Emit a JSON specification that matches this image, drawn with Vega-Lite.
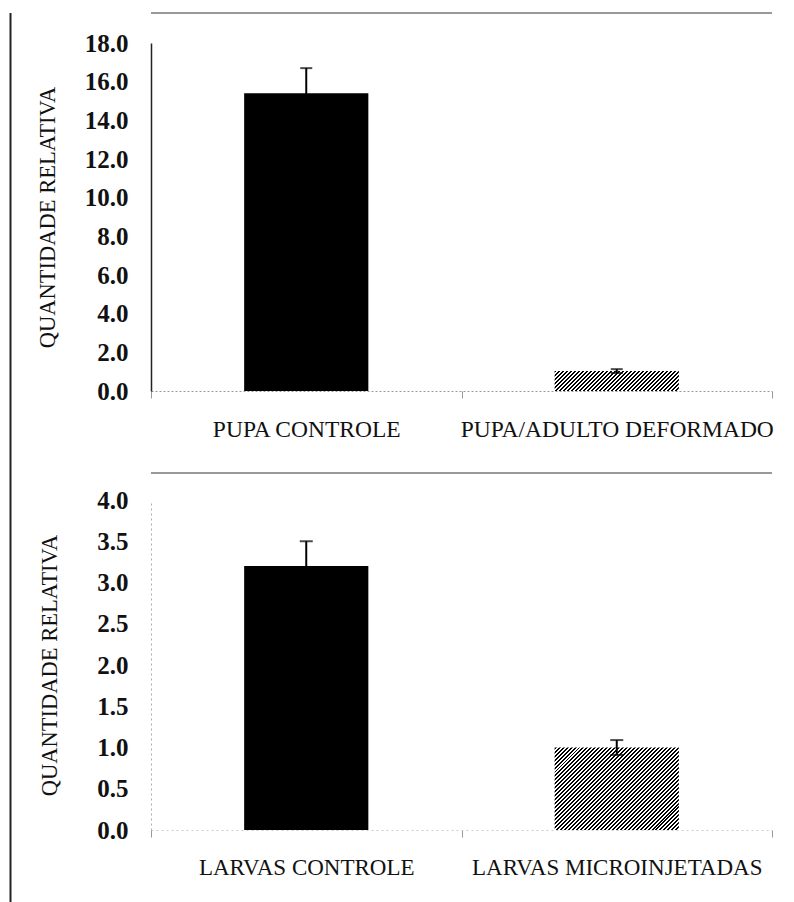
{
  "$schema": "https://vega.github.io/schema/vega-lite/v6.json",
  "background": "white",
  "padding": {"left": 9, "top": 11, "right": 0, "bottom": 0},
  "config": {"view": {"stroke": null}, "font": "Liberation Serif", "axis": {"grid": false, "labelOverlap": false}},
  "datasets": {
    "pupa": [
      {"grupo": "PUPA CONTROLE", "tipo": "controle", "valor": 15.4, "inf": 14.1, "sup": 16.7},
      {"grupo": "PUPA/ADULTO DEFORMADO", "tipo": "tratado", "valor": 1.03, "inf": 0.93, "sup": 1.13}
    ],
    "larvas": [
      {"grupo": "LARVAS CONTROLE", "tipo": "controle", "valor": 3.2, "inf": 2.9, "sup": 3.5},
      {"grupo": "LARVAS MICROINJETADAS", "tipo": "tratado", "valor": 1.0, "inf": 0.91, "sup": 1.09}
    ],
    "moldura": [{"linha": 19.55}, {"linha": -4.24}],
    "borda": [{"de": 0, "ate": 1.035}]
  },
  "columns": 2,
  "align": "none",
  "spacing": 24,
  "concat": [
    {
      "width": 1,
      "height": 860,
      "data": {"name": "borda"},
      "mark": {"type": "rule", "color": "#222", "strokeWidth": 2},
      "encoding": {
        "y": {"field": "de", "type": "quantitative", "scale": {"domain": [0, 1]}, "axis": null},
        "y2": {"field": "ate"}
      }
    },
    {
      "concat": [
        {
          "width": 621,
          "height": 348,
          "data": {"name": "pupa"},
          "layer": [
            {
              "transform": [{"filter": "datum.tipo === 'controle'"}],
              "mark": {"type": "bar", "width": {"band": 0.4}, "color": "#000"},
              "encoding": {
                "x": {"field": "grupo", "type": "nominal", "sort": null,
                  "scale": {"domain": ["PUPA CONTROLE", "PUPA/ADULTO DEFORMADO"], "paddingInner": 0, "paddingOuter": 0},
                  "axis": {"title": null, "labelAngle": 0, "labelFontSize": 23.5, "labelColor": "#111", "labelFont": "Liberation Serif", "labelPadding": 19, "labelLimit": 0, "labelOverlap": false, "tickBand": "extent", "tickSize": 7, "tickColor": "#999", "domainColor": "#999", "domainDash": [2, 2]}},
                "y": {"field": "valor", "type": "quantitative", "scale": {"domain": [0, 18]},
                  "axis": {"title": "QUANTIDADE RELATIVA", "titleFontSize": 22.5, "titleFontWeight": "normal", "titleColor": "#111", "titleFont": "Liberation Serif", "titlePadding": 25, "values": [0, 2, 4, 6, 8, 10, 12, 14, 16, 18], "tickCount": 20, "format": ".1f", "labelFontSize": 25, "labelFontWeight": "bold", "labelColor": "#111", "labelFont": "Liberation Serif", "labelPadding": 23, "labelOverlap": false, "labelBound": false, "ticks": false, "domainColor": "#222", "domainWidth": 1.5}}
              }
            },
            {
              "transform": [{"filter": "datum.tipo === 'tratado'"}],
              "mark": {"type": "bar", "width": {"band": 0.4}, "color": {"gradient": "linear", "x1": 0, "y1": 0, "x2": 1.1312, "y2": 0.1812, "stops": [
                {"offset": 0, "color": "#000"}, {"offset": 0.0139, "color": "#000"}, {"offset": 0.0139, "color": "#fff"}, {"offset": 0.0278, "color": "#fff"},
                {"offset": 0.0278, "color": "#000"}, {"offset": 0.0417, "color": "#000"}, {"offset": 0.0417, "color": "#fff"}, {"offset": 0.0556, "color": "#fff"},
                {"offset": 0.0556, "color": "#000"}, {"offset": 0.0694, "color": "#000"}, {"offset": 0.0694, "color": "#fff"}, {"offset": 0.0833, "color": "#fff"},
                {"offset": 0.0833, "color": "#000"}, {"offset": 0.0972, "color": "#000"}, {"offset": 0.0972, "color": "#fff"}, {"offset": 0.1111, "color": "#fff"},
                {"offset": 0.1111, "color": "#000"}, {"offset": 0.125, "color": "#000"}, {"offset": 0.125, "color": "#fff"}, {"offset": 0.1389, "color": "#fff"},
                {"offset": 0.1389, "color": "#000"}, {"offset": 0.1528, "color": "#000"}, {"offset": 0.1528, "color": "#fff"}, {"offset": 0.1667, "color": "#fff"},
                {"offset": 0.1667, "color": "#000"}, {"offset": 0.1806, "color": "#000"}, {"offset": 0.1806, "color": "#fff"}, {"offset": 0.1944, "color": "#fff"},
                {"offset": 0.1944, "color": "#000"}, {"offset": 0.2083, "color": "#000"}, {"offset": 0.2083, "color": "#fff"}, {"offset": 0.2222, "color": "#fff"},
                {"offset": 0.2222, "color": "#000"}, {"offset": 0.2361, "color": "#000"}, {"offset": 0.2361, "color": "#fff"}, {"offset": 0.25, "color": "#fff"},
                {"offset": 0.25, "color": "#000"}, {"offset": 0.2639, "color": "#000"}, {"offset": 0.2639, "color": "#fff"}, {"offset": 0.2778, "color": "#fff"},
                {"offset": 0.2778, "color": "#000"}, {"offset": 0.2917, "color": "#000"}, {"offset": 0.2917, "color": "#fff"}, {"offset": 0.3056, "color": "#fff"},
                {"offset": 0.3056, "color": "#000"}, {"offset": 0.3194, "color": "#000"}, {"offset": 0.3194, "color": "#fff"}, {"offset": 0.3333, "color": "#fff"},
                {"offset": 0.3333, "color": "#000"}, {"offset": 0.3472, "color": "#000"}, {"offset": 0.3472, "color": "#fff"}, {"offset": 0.3611, "color": "#fff"},
                {"offset": 0.3611, "color": "#000"}, {"offset": 0.375, "color": "#000"}, {"offset": 0.375, "color": "#fff"}, {"offset": 0.3889, "color": "#fff"},
                {"offset": 0.3889, "color": "#000"}, {"offset": 0.4028, "color": "#000"}, {"offset": 0.4028, "color": "#fff"}, {"offset": 0.4167, "color": "#fff"},
                {"offset": 0.4167, "color": "#000"}, {"offset": 0.4306, "color": "#000"}, {"offset": 0.4306, "color": "#fff"}, {"offset": 0.4444, "color": "#fff"},
                {"offset": 0.4444, "color": "#000"}, {"offset": 0.4583, "color": "#000"}, {"offset": 0.4583, "color": "#fff"}, {"offset": 0.4722, "color": "#fff"},
                {"offset": 0.4722, "color": "#000"}, {"offset": 0.4861, "color": "#000"}, {"offset": 0.4861, "color": "#fff"}, {"offset": 0.5, "color": "#fff"},
                {"offset": 0.5, "color": "#000"}, {"offset": 0.5139, "color": "#000"}, {"offset": 0.5139, "color": "#fff"}, {"offset": 0.5278, "color": "#fff"},
                {"offset": 0.5278, "color": "#000"}, {"offset": 0.5417, "color": "#000"}, {"offset": 0.5417, "color": "#fff"}, {"offset": 0.5556, "color": "#fff"},
                {"offset": 0.5556, "color": "#000"}, {"offset": 0.5694, "color": "#000"}, {"offset": 0.5694, "color": "#fff"}, {"offset": 0.5833, "color": "#fff"},
                {"offset": 0.5833, "color": "#000"}, {"offset": 0.5972, "color": "#000"}, {"offset": 0.5972, "color": "#fff"}, {"offset": 0.6111, "color": "#fff"},
                {"offset": 0.6111, "color": "#000"}, {"offset": 0.625, "color": "#000"}, {"offset": 0.625, "color": "#fff"}, {"offset": 0.6389, "color": "#fff"},
                {"offset": 0.6389, "color": "#000"}, {"offset": 0.6528, "color": "#000"}, {"offset": 0.6528, "color": "#fff"}, {"offset": 0.6667, "color": "#fff"},
                {"offset": 0.6667, "color": "#000"}, {"offset": 0.6806, "color": "#000"}, {"offset": 0.6806, "color": "#fff"}, {"offset": 0.6944, "color": "#fff"},
                {"offset": 0.6944, "color": "#000"}, {"offset": 0.7083, "color": "#000"}, {"offset": 0.7083, "color": "#fff"}, {"offset": 0.7222, "color": "#fff"},
                {"offset": 0.7222, "color": "#000"}, {"offset": 0.7361, "color": "#000"}, {"offset": 0.7361, "color": "#fff"}, {"offset": 0.75, "color": "#fff"},
                {"offset": 0.75, "color": "#000"}, {"offset": 0.7639, "color": "#000"}, {"offset": 0.7639, "color": "#fff"}, {"offset": 0.7778, "color": "#fff"},
                {"offset": 0.7778, "color": "#000"}, {"offset": 0.7917, "color": "#000"}, {"offset": 0.7917, "color": "#fff"}, {"offset": 0.8056, "color": "#fff"},
                {"offset": 0.8056, "color": "#000"}, {"offset": 0.8194, "color": "#000"}, {"offset": 0.8194, "color": "#fff"}, {"offset": 0.8333, "color": "#fff"},
                {"offset": 0.8333, "color": "#000"}, {"offset": 0.8472, "color": "#000"}, {"offset": 0.8472, "color": "#fff"}, {"offset": 0.8611, "color": "#fff"},
                {"offset": 0.8611, "color": "#000"}, {"offset": 0.875, "color": "#000"}, {"offset": 0.875, "color": "#fff"}, {"offset": 0.8889, "color": "#fff"},
                {"offset": 0.8889, "color": "#000"}, {"offset": 0.9028, "color": "#000"}, {"offset": 0.9028, "color": "#fff"}, {"offset": 0.9167, "color": "#fff"},
                {"offset": 0.9167, "color": "#000"}, {"offset": 0.9306, "color": "#000"}, {"offset": 0.9306, "color": "#fff"}, {"offset": 0.9444, "color": "#fff"},
                {"offset": 0.9444, "color": "#000"}, {"offset": 0.9583, "color": "#000"}, {"offset": 0.9583, "color": "#fff"}, {"offset": 0.9722, "color": "#fff"},
                {"offset": 0.9722, "color": "#000"}, {"offset": 0.9861, "color": "#000"}, {"offset": 0.9861, "color": "#fff"}, {"offset": 1, "color": "#fff"}
              ]}},
              "encoding": {
                "x": {"field": "grupo", "type": "nominal", "sort": null},
                "y": {"field": "valor", "type": "quantitative"}
              }
            },
            {
              "mark": {"type": "rule", "color": "#000", "strokeWidth": 2},
              "encoding": {
                "x": {"field": "grupo", "type": "nominal", "sort": null},
                "y": {"field": "inf", "type": "quantitative"},
                "y2": {"field": "sup"}
              }
            },
            {
              "mark": {"type": "tick", "color": "#000", "size": 12, "thickness": 2},
              "encoding": {
                "x": {"field": "grupo", "type": "nominal", "sort": null},
                "y": {"field": "sup", "type": "quantitative"}
              }
            },
            {
              "mark": {"type": "tick", "color": "#000", "size": 12, "thickness": 2},
              "encoding": {
                "x": {"field": "grupo", "type": "nominal", "sort": null},
                "y": {"field": "inf", "type": "quantitative"}
              }
            },
            {
              "data": {"name": "moldura"},
              "mark": {"type": "rule", "color": "#777", "strokeWidth": 1.5},
              "encoding": {"y": {"field": "linha", "type": "quantitative"}}
            }
          ]
        },
        {
          "width": 621,
          "height": 330,
          "data": {"name": "larvas"},
          "layer": [
            {
              "transform": [{"filter": "datum.tipo === 'controle'"}],
              "mark": {"type": "bar", "width": {"band": 0.4}, "color": "#000"},
              "encoding": {
                "x": {"field": "grupo", "type": "nominal", "sort": null,
                  "scale": {"domain": ["LARVAS CONTROLE", "LARVAS MICROINJETADAS"], "paddingInner": 0, "paddingOuter": 0},
                  "axis": {"title": null, "labelAngle": 0, "labelFontSize": 23, "labelColor": "#111", "labelFont": "Liberation Serif", "labelPadding": 19, "labelLimit": 0, "labelOverlap": false, "tickBand": "extent", "tickSize": 7, "tickColor": "#999", "domainColor": "#ccc", "domainDash": [2, 3]}},
                "y": {"field": "valor", "type": "quantitative", "scale": {"domain": [0, 4]},
                  "axis": {"title": "QUANTIDADE RELATIVA", "titleFontSize": 22.5, "titleFontWeight": "normal", "titleColor": "#111", "titleFont": "Liberation Serif", "titlePadding": 35, "values": [0, 0.5, 1, 1.5, 2, 2.5, 3, 3.5, 4], "tickCount": 20, "format": ".1f", "labelFontSize": 25, "labelFontWeight": "bold", "labelColor": "#111", "labelFont": "Liberation Serif", "labelPadding": 23, "labelOverlap": false, "labelBound": false, "ticks": false, "domainColor": "#aaa", "domainDash": [2, 3]}}
              }
            },
            {
              "transform": [{"filter": "datum.tipo === 'tratado'"}],
              "mark": {"type": "bar", "width": {"band": 0.4}, "color": {"gradient": "linear", "x1": 0, "y1": 0, "x2": 1.1547, "y2": 0.7671, "stops": [
                {"offset": 0, "color": "#000"}, {"offset": 0.0096, "color": "#000"}, {"offset": 0.0096, "color": "#fff"}, {"offset": 0.0192, "color": "#fff"},
                {"offset": 0.0192, "color": "#000"}, {"offset": 0.0288, "color": "#000"}, {"offset": 0.0288, "color": "#fff"}, {"offset": 0.0385, "color": "#fff"},
                {"offset": 0.0385, "color": "#000"}, {"offset": 0.0481, "color": "#000"}, {"offset": 0.0481, "color": "#fff"}, {"offset": 0.0577, "color": "#fff"},
                {"offset": 0.0577, "color": "#000"}, {"offset": 0.0673, "color": "#000"}, {"offset": 0.0673, "color": "#fff"}, {"offset": 0.0769, "color": "#fff"},
                {"offset": 0.0769, "color": "#000"}, {"offset": 0.0865, "color": "#000"}, {"offset": 0.0865, "color": "#fff"}, {"offset": 0.0962, "color": "#fff"},
                {"offset": 0.0962, "color": "#000"}, {"offset": 0.1058, "color": "#000"}, {"offset": 0.1058, "color": "#fff"}, {"offset": 0.1154, "color": "#fff"},
                {"offset": 0.1154, "color": "#000"}, {"offset": 0.125, "color": "#000"}, {"offset": 0.125, "color": "#fff"}, {"offset": 0.1346, "color": "#fff"},
                {"offset": 0.1346, "color": "#000"}, {"offset": 0.1442, "color": "#000"}, {"offset": 0.1442, "color": "#fff"}, {"offset": 0.1538, "color": "#fff"},
                {"offset": 0.1538, "color": "#000"}, {"offset": 0.1635, "color": "#000"}, {"offset": 0.1635, "color": "#fff"}, {"offset": 0.1731, "color": "#fff"},
                {"offset": 0.1731, "color": "#000"}, {"offset": 0.1827, "color": "#000"}, {"offset": 0.1827, "color": "#fff"}, {"offset": 0.1923, "color": "#fff"},
                {"offset": 0.1923, "color": "#000"}, {"offset": 0.2019, "color": "#000"}, {"offset": 0.2019, "color": "#fff"}, {"offset": 0.2115, "color": "#fff"},
                {"offset": 0.2115, "color": "#000"}, {"offset": 0.2212, "color": "#000"}, {"offset": 0.2212, "color": "#fff"}, {"offset": 0.2308, "color": "#fff"},
                {"offset": 0.2308, "color": "#000"}, {"offset": 0.2404, "color": "#000"}, {"offset": 0.2404, "color": "#fff"}, {"offset": 0.25, "color": "#fff"},
                {"offset": 0.25, "color": "#000"}, {"offset": 0.2596, "color": "#000"}, {"offset": 0.2596, "color": "#fff"}, {"offset": 0.2692, "color": "#fff"},
                {"offset": 0.2692, "color": "#000"}, {"offset": 0.2788, "color": "#000"}, {"offset": 0.2788, "color": "#fff"}, {"offset": 0.2885, "color": "#fff"},
                {"offset": 0.2885, "color": "#000"}, {"offset": 0.2981, "color": "#000"}, {"offset": 0.2981, "color": "#fff"}, {"offset": 0.3077, "color": "#fff"},
                {"offset": 0.3077, "color": "#000"}, {"offset": 0.3173, "color": "#000"}, {"offset": 0.3173, "color": "#fff"}, {"offset": 0.3269, "color": "#fff"},
                {"offset": 0.3269, "color": "#000"}, {"offset": 0.3365, "color": "#000"}, {"offset": 0.3365, "color": "#fff"}, {"offset": 0.3462, "color": "#fff"},
                {"offset": 0.3462, "color": "#000"}, {"offset": 0.3558, "color": "#000"}, {"offset": 0.3558, "color": "#fff"}, {"offset": 0.3654, "color": "#fff"},
                {"offset": 0.3654, "color": "#000"}, {"offset": 0.375, "color": "#000"}, {"offset": 0.375, "color": "#fff"}, {"offset": 0.3846, "color": "#fff"},
                {"offset": 0.3846, "color": "#000"}, {"offset": 0.3942, "color": "#000"}, {"offset": 0.3942, "color": "#fff"}, {"offset": 0.4038, "color": "#fff"},
                {"offset": 0.4038, "color": "#000"}, {"offset": 0.4135, "color": "#000"}, {"offset": 0.4135, "color": "#fff"}, {"offset": 0.4231, "color": "#fff"},
                {"offset": 0.4231, "color": "#000"}, {"offset": 0.4327, "color": "#000"}, {"offset": 0.4327, "color": "#fff"}, {"offset": 0.4423, "color": "#fff"},
                {"offset": 0.4423, "color": "#000"}, {"offset": 0.4519, "color": "#000"}, {"offset": 0.4519, "color": "#fff"}, {"offset": 0.4615, "color": "#fff"},
                {"offset": 0.4615, "color": "#000"}, {"offset": 0.4712, "color": "#000"}, {"offset": 0.4712, "color": "#fff"}, {"offset": 0.4808, "color": "#fff"},
                {"offset": 0.4808, "color": "#000"}, {"offset": 0.4904, "color": "#000"}, {"offset": 0.4904, "color": "#fff"}, {"offset": 0.5, "color": "#fff"},
                {"offset": 0.5, "color": "#000"}, {"offset": 0.5096, "color": "#000"}, {"offset": 0.5096, "color": "#fff"}, {"offset": 0.5192, "color": "#fff"},
                {"offset": 0.5192, "color": "#000"}, {"offset": 0.5288, "color": "#000"}, {"offset": 0.5288, "color": "#fff"}, {"offset": 0.5385, "color": "#fff"},
                {"offset": 0.5385, "color": "#000"}, {"offset": 0.5481, "color": "#000"}, {"offset": 0.5481, "color": "#fff"}, {"offset": 0.5577, "color": "#fff"},
                {"offset": 0.5577, "color": "#000"}, {"offset": 0.5673, "color": "#000"}, {"offset": 0.5673, "color": "#fff"}, {"offset": 0.5769, "color": "#fff"},
                {"offset": 0.5769, "color": "#000"}, {"offset": 0.5865, "color": "#000"}, {"offset": 0.5865, "color": "#fff"}, {"offset": 0.5962, "color": "#fff"},
                {"offset": 0.5962, "color": "#000"}, {"offset": 0.6058, "color": "#000"}, {"offset": 0.6058, "color": "#fff"}, {"offset": 0.6154, "color": "#fff"},
                {"offset": 0.6154, "color": "#000"}, {"offset": 0.625, "color": "#000"}, {"offset": 0.625, "color": "#fff"}, {"offset": 0.6346, "color": "#fff"},
                {"offset": 0.6346, "color": "#000"}, {"offset": 0.6442, "color": "#000"}, {"offset": 0.6442, "color": "#fff"}, {"offset": 0.6538, "color": "#fff"},
                {"offset": 0.6538, "color": "#000"}, {"offset": 0.6635, "color": "#000"}, {"offset": 0.6635, "color": "#fff"}, {"offset": 0.6731, "color": "#fff"},
                {"offset": 0.6731, "color": "#000"}, {"offset": 0.6827, "color": "#000"}, {"offset": 0.6827, "color": "#fff"}, {"offset": 0.6923, "color": "#fff"},
                {"offset": 0.6923, "color": "#000"}, {"offset": 0.7019, "color": "#000"}, {"offset": 0.7019, "color": "#fff"}, {"offset": 0.7115, "color": "#fff"},
                {"offset": 0.7115, "color": "#000"}, {"offset": 0.7212, "color": "#000"}, {"offset": 0.7212, "color": "#fff"}, {"offset": 0.7308, "color": "#fff"},
                {"offset": 0.7308, "color": "#000"}, {"offset": 0.7404, "color": "#000"}, {"offset": 0.7404, "color": "#fff"}, {"offset": 0.75, "color": "#fff"},
                {"offset": 0.75, "color": "#000"}, {"offset": 0.7596, "color": "#000"}, {"offset": 0.7596, "color": "#fff"}, {"offset": 0.7692, "color": "#fff"},
                {"offset": 0.7692, "color": "#000"}, {"offset": 0.7788, "color": "#000"}, {"offset": 0.7788, "color": "#fff"}, {"offset": 0.7885, "color": "#fff"},
                {"offset": 0.7885, "color": "#000"}, {"offset": 0.7981, "color": "#000"}, {"offset": 0.7981, "color": "#fff"}, {"offset": 0.8077, "color": "#fff"},
                {"offset": 0.8077, "color": "#000"}, {"offset": 0.8173, "color": "#000"}, {"offset": 0.8173, "color": "#fff"}, {"offset": 0.8269, "color": "#fff"},
                {"offset": 0.8269, "color": "#000"}, {"offset": 0.8365, "color": "#000"}, {"offset": 0.8365, "color": "#fff"}, {"offset": 0.8462, "color": "#fff"},
                {"offset": 0.8462, "color": "#000"}, {"offset": 0.8558, "color": "#000"}, {"offset": 0.8558, "color": "#fff"}, {"offset": 0.8654, "color": "#fff"},
                {"offset": 0.8654, "color": "#000"}, {"offset": 0.875, "color": "#000"}, {"offset": 0.875, "color": "#fff"}, {"offset": 0.8846, "color": "#fff"},
                {"offset": 0.8846, "color": "#000"}, {"offset": 0.8942, "color": "#000"}, {"offset": 0.8942, "color": "#fff"}, {"offset": 0.9038, "color": "#fff"},
                {"offset": 0.9038, "color": "#000"}, {"offset": 0.9135, "color": "#000"}, {"offset": 0.9135, "color": "#fff"}, {"offset": 0.9231, "color": "#fff"},
                {"offset": 0.9231, "color": "#000"}, {"offset": 0.9327, "color": "#000"}, {"offset": 0.9327, "color": "#fff"}, {"offset": 0.9423, "color": "#fff"},
                {"offset": 0.9423, "color": "#000"}, {"offset": 0.9519, "color": "#000"}, {"offset": 0.9519, "color": "#fff"}, {"offset": 0.9615, "color": "#fff"},
                {"offset": 0.9615, "color": "#000"}, {"offset": 0.9712, "color": "#000"}, {"offset": 0.9712, "color": "#fff"}, {"offset": 0.9808, "color": "#fff"},
                {"offset": 0.9808, "color": "#000"}, {"offset": 0.9904, "color": "#000"}, {"offset": 0.9904, "color": "#fff"}, {"offset": 1, "color": "#fff"}
              ]}},
              "encoding": {
                "x": {"field": "grupo", "type": "nominal", "sort": null},
                "y": {"field": "valor", "type": "quantitative"}
              }
            },
            {
              "mark": {"type": "rule", "color": "#000", "strokeWidth": 2},
              "encoding": {
                "x": {"field": "grupo", "type": "nominal", "sort": null},
                "y": {"field": "inf", "type": "quantitative"},
                "y2": {"field": "sup"}
              }
            },
            {
              "mark": {"type": "tick", "color": "#000", "size": 13, "thickness": 2},
              "encoding": {
                "x": {"field": "grupo", "type": "nominal", "sort": null},
                "y": {"field": "sup", "type": "quantitative"}
              }
            },
            {
              "mark": {"type": "tick", "color": "#000", "size": 13, "thickness": 2},
              "encoding": {
                "x": {"field": "grupo", "type": "nominal", "sort": null},
                "y": {"field": "inf", "type": "quantitative"}
              }
            }
          ]
        }
      ],
      "columns": 1,
      "align": "none",
      "spacing": 14
    }
  ]
}
